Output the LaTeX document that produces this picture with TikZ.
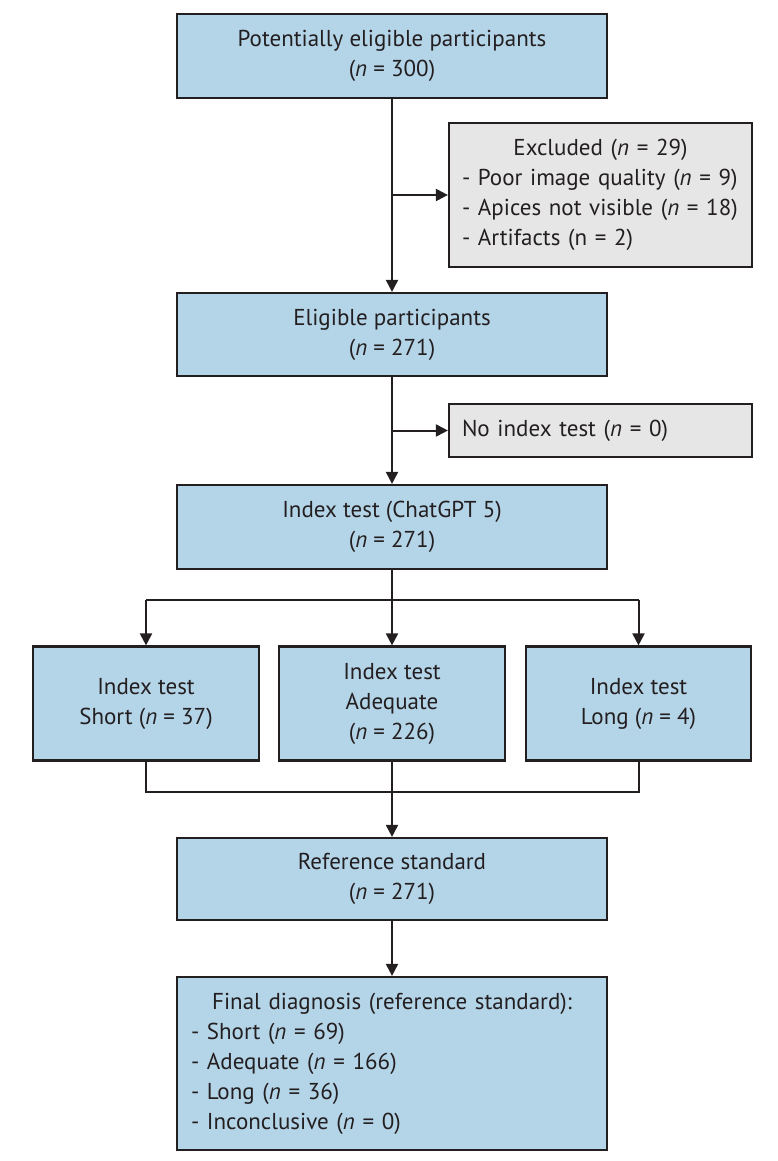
\documentclass[tikz,border=0pt]{standalone}
\usepackage{fontspec}
\setmainfont{PT Sans}
\usetikzlibrary{arrows.meta}
\definecolor{bluef}{HTML}{B4D4E8}
\definecolor{grayf}{HTML}{E6E6E6}
\definecolor{ink}{HTML}{231F20}
\newcommand\fs{\fontsize{23}{30}\selectfont}
\newcommand\nn{\textit{n}~=~}
\begin{document}
\begin{tikzpicture}[x=1pt,y=-1pt,
  box/.style={draw=ink, line width=2.2pt, fill=bluef, minimum width=430pt, minimum height=84pt, align=center, inner sep=0pt, font=\fs, text=ink},
  gbox/.style={box, fill=grayf, minimum width=303pt},
  sbox/.style={box, minimum width=226pt, minimum height=114pt},
  conn/.style={draw=ink, line width=2pt},
  arr/.style={conn, -{Triangle[length=12pt,width=12pt]}}]
\useasboundingbox (0,0) rectangle (777,1161);
\node[box] (pot) at (392,56) {Potentially eligible participants\\(\nn300)};
\node[gbox, minimum height=144pt, text width=279pt, inner xsep=12pt, align=left] (exc) at (600.5,195)
  {\makebox[\linewidth][c]{Excluded (\nn29)}\\\hspace*{1pt}- Poor image quality (\nn9)\\\hspace*{1pt}- Apices not visible (\nn18)\\\hspace*{1pt}- Artifacts (n~=~2)};
\node[gbox, minimum height=53pt, text width=277pt, inner xsep=13pt, align=left] (noi) at (600.5,430.5)
  {No index test (\nn0)};
\node[box, minimum height=83pt] (eli) at (392,334.5) {Eligible participants\\(\nn271)};
\node[box] (idx) at (392,527) {Index test (ChatGPT 5)\\(\nn271)};
\node[sbox] (sho) at (146,703.5) {Index test\\Short (\nn37)};
\node[sbox] (ade) at (392,703.5) {Index test\\Adequate\\(\nn226)};
\node[sbox, minimum width=225pt] (lon) at (638.5,703.5) {Index test\\Long (\nn4)};
\node[box, minimum height=82pt] (ref) at (392,879) {Reference standard\\(\nn271)};
\node[box, minimum height=173pt, text width=402pt, inner xsep=14pt, align=left] (fin) at (392,1063.5)
  {\makebox[\linewidth][c]{Final diagnosis (reference standard):}\\- Short (\nn69)\\- Adequate (\nn166)\\- Long (\nn36)\\- Inconclusive (\nn0)};
% connectors
\coordinate (b1) at (pot.south |- exc.west);
\coordinate (b2) at (eli.south |- noi.west);
\coordinate (s0) at (392,600);
\coordinate (sl) at (sho.north |- s0);
\coordinate (sr) at (lon.north |- s0);
\coordinate (m0) at (392,792);
\coordinate (ml) at (sho.south |- m0);
\coordinate (mr) at (lon.south |- m0);
\draw[arr] (pot.south) -- (eli.north);
\draw[arr] (b1) -- (exc.west);
\draw[arr] (eli.south) -- (idx.north);
\draw[arr] (b2) -- (noi.west);
\draw[arr] (idx.south) -- (ade.north);
\draw[arr] (sl) -- (sho.north);
\draw[arr] (sr) -- (lon.north);
\draw[conn] (sl) -- (sr);
\draw[conn] (sho.south) -- (ml) -- (mr) -- (lon.south);
\draw[arr] (ade.south) -- (ref.north);
\draw[arr] (ref.south) -- (fin.north);
\end{tikzpicture}
\end{document}
